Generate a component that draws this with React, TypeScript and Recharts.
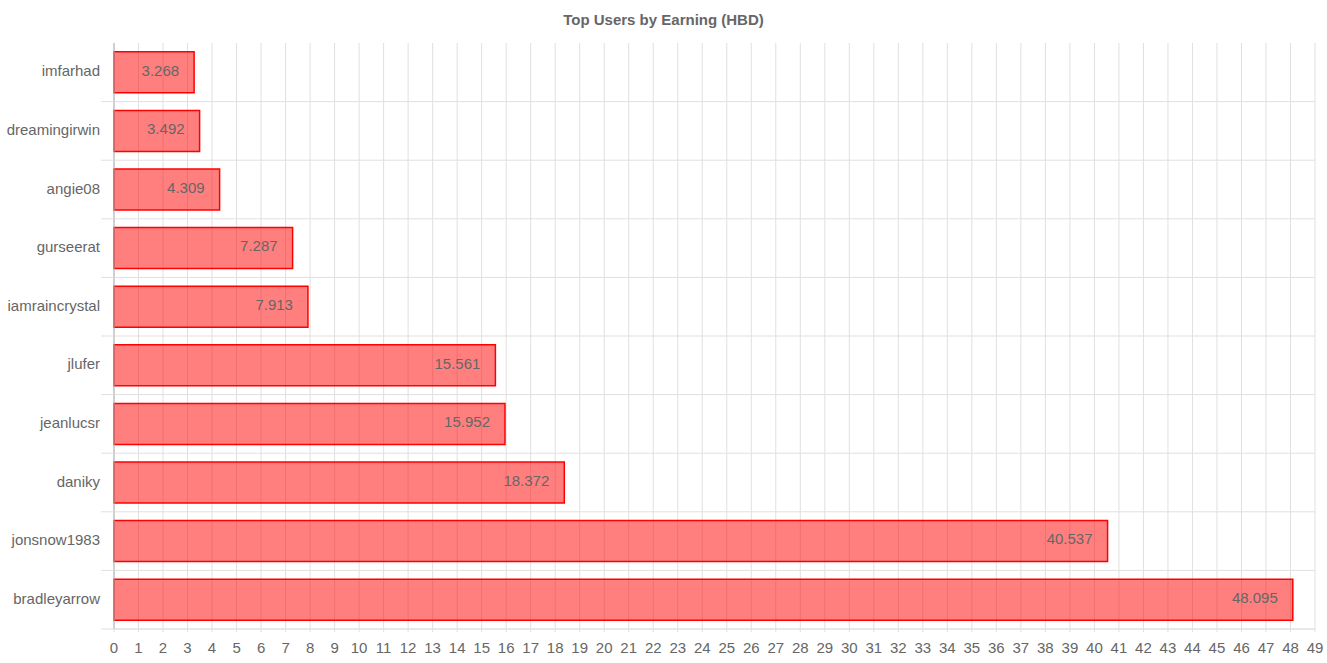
import * as React from "react";
import {
  BarChart,
  Bar,
  XAxis,
  YAxis,
  CartesianGrid,
  LabelList,
} from "recharts";

const users = [
  "imfarhad",
  "dreamingirwin",
  "angie08",
  "gurseerat",
  "iamraincrystal",
  "jlufer",
  "jeanlucsr",
  "daniky",
  "jonsnow1983",
  "bradleyarrow",
];
const earnings = [3.268, 3.492, 4.309, 7.287, 7.913, 15.561, 15.952, 18.372, 40.537, 48.095];
const xTicks = Array.from({ length: 50 }, (_, i) => i);

const W = 1327;
const H = 663;
const TOP = 43;
const X_AXIS_H = 34;
const LEFT = 114;
const RIGHT = 12;
const BAND = (H - TOP - X_AXIS_H) / users.length;
const FONT = '"Liberation Sans", Arial, Helvetica, sans-serif';
const GRID = "#e0e0e0";

const data = users.map((name, i) => ({ name, value: earnings[i] }));

// y tick: label plus a short line at the bottom edge of each band
function UserTick(props: any) {
  const { y, payload } = props;
  const edge = y + BAND / 2;
  return (
    <g>
      <line x1={LEFT - 13} x2={LEFT} y1={edge} y2={edge} stroke={GRID} />
      <text
        x={LEFT - 14}
        y={y}
        dy={4}
        textAnchor="end"
        fill="#666"
        fontSize={15}
        fontFamily={FONT}
      >
        {payload.value}
      </text>
    </g>
  );
}

export default function App() {
  return (
    <div style={{ position: "absolute", left: 0, top: 0, width: W, height: H }}>
      <div
        style={{
          position: "absolute",
          top: 11,
          left: 0,
          width: W,
          textAlign: "center",
          fontFamily: FONT,
          fontWeight: "bold",
          fontSize: 15,
          color: "#666",
        }}
      >
        Top Users by Earning (HBD)
      </div>
      <BarChart
        width={W}
        height={H}
        data={data}
        layout="vertical"
        margin={{ top: TOP, right: RIGHT, bottom: 0, left: 0 }}
        barCategoryGap="15%"
      >
        <CartesianGrid
          stroke={GRID}
          horizontalCoordinatesGenerator={({ offset }: any) =>
            users.map((_, i) => offset.top + (i + 1) * (offset.height / users.length))
          }
        />
        <XAxis
          type="number"
          domain={[0, 49]}
          ticks={xTicks}
          interval={0}
          height={X_AXIS_H}
          axisLine={{ stroke: GRID }}
          tickLine={{ stroke: GRID }}
          tickSize={3}
          tick={{ fill: "#666", fontSize: 15, fontFamily: FONT }}
          tickMargin={10}
        />
        <YAxis
          type="category"
          dataKey="name"
          width={LEFT}
          axisLine={{ stroke: "#b0b0b0" }}
          tickLine={false}
          tick={<UserTick />}
          interval={0}
        />
        <Bar
          dataKey="value"
          fill="rgba(255, 0, 0, 0.5)"
          stroke="#ff0000"
          strokeWidth={1.5}
          isAnimationActive={false}
        >
          <LabelList
            dataKey="value"
            position="insideRight"
            offset={15}
            dy={-2}
            fill="#666"
            fontSize={15}
            fontFamily={FONT}
          />
        </Bar>
      </BarChart>
    </div>
  );
}
